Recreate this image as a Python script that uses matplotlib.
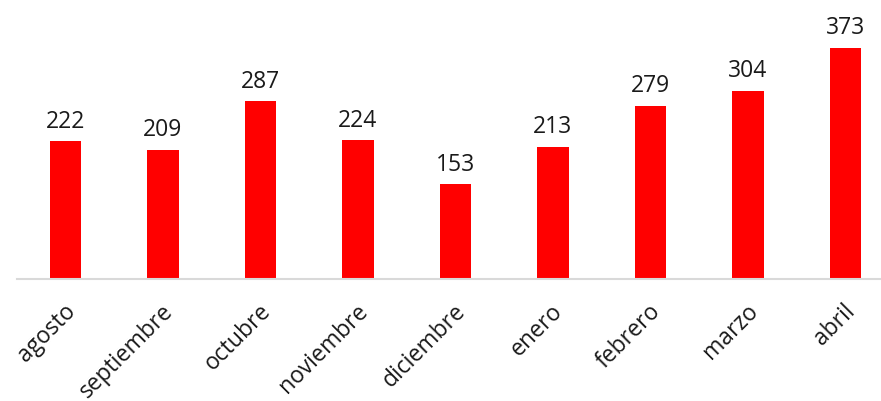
import numpy as np
import matplotlib.pyplot as plt
import matplotlib.transforms as mtransforms

months = ['agosto', 'septiembre', 'octubre', 'noviembre', 'diciembre',
          'enero', 'febrero', 'marzo', 'abril']
values = [222, 209, 287, 224, 153, 213, 279, 304, 373]

plt.rcParams['font.family'] = ['Open Sans', 'DejaVu Sans']

fig = plt.figure(figsize=(8.81, 4.02), dpi=100)
ax = fig.add_axes([0.019, 0.3035, 0.996, 0.6965])

x = np.arange(len(months))
bars = ax.bar(x, values, width=0.32, color='#ff0000')
for xi, v in zip(x, values):
    ax.text(xi, v + 14, str(v), ha='center', va='bottom', fontsize=16.5, color='#1a1a1a')

ax.set_xlim(-0.5, len(months) - 0.5)
ax.set_ylim(0, 452)
ax.set_yticks([])
ax.set_xticks(x)
ax.set_xticklabels(months, rotation=45, ha='right', rotation_mode='anchor',
                   fontsize=16.5, color='#1a1a1a')
ax.tick_params(axis='x', length=0, pad=14)
shift = mtransforms.ScaledTranslation(-2 / 100, 0, fig.dpi_scale_trans)
for lbl in ax.get_xticklabels():
    lbl.set_transform(lbl.get_transform() + shift)
for s in ['top', 'left', 'right']:
    ax.spines[s].set_visible(False)
ax.spines['bottom'].set_color('#d9d9d9')
ax.spines['bottom'].set_linewidth(1.5)

fig.savefig('out.png', dpi=100)
